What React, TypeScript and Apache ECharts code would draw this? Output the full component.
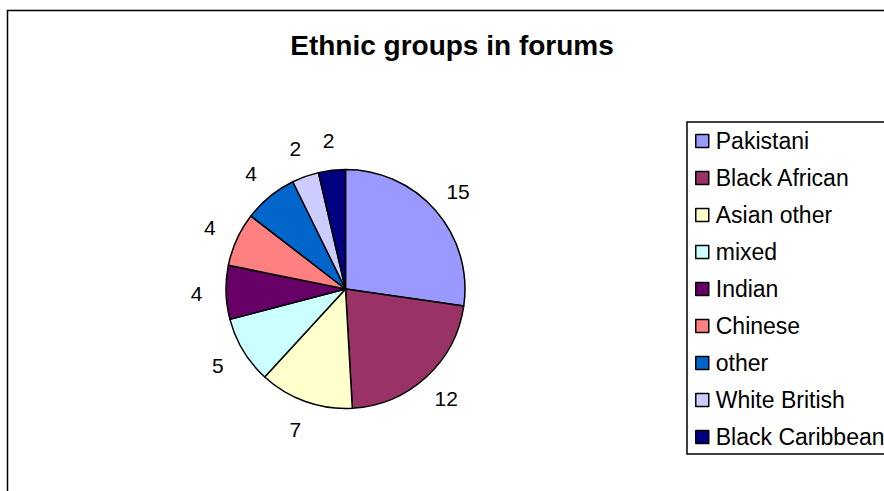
import React, { useEffect, useRef } from "react";
import * as echarts from "echarts";

const categories = [
  "Pakistani",
  "Black African",
  "Asian other",
  "mixed",
  "Indian",
  "Chinese",
  "other",
  "White British",
  "Black Caribbean",
];
const values = [15, 12, 7, 5, 4, 4, 4, 2, 2];
const colors = [
  "#9999FF",
  "#993366",
  "#FFFFCC",
  "#CCFFFF",
  "#660066",
  "#FF8080",
  "#0066CC",
  "#CCCCFF",
  "#000080",
];
const titleText = "Ethnic groups in forums";

export default function App() {
  const ref = useRef<HTMLDivElement>(null);
  useEffect(() => {
    if (!ref.current) return;
    const chart = echarts.init(ref.current, undefined, { renderer: "svg" });
    const data = categories.map((name, i) => ({
      name,
      value: values[i],
      itemStyle: { color: colors[i] },
    }));
    const font = "'Liberation Sans', Arial, sans-serif";
    chart.setOption({
      animation: false,
      backgroundColor: "#ffffff",
      title: {
        text: titleText,
        left: 452,
        top: 31,
        textAlign: "center",
        padding: 0,
        textStyle: {
          fontFamily: font,
          fontSize: 28,
          fontWeight: "bold",
          color: "#000",
        },
      },
      graphic: [
        {
          type: "rect",
          shape: { x: 7.5, y: 10.5, width: 1200, height: 1200 },
          style: { fill: "none", stroke: "#000", lineWidth: 1.5 },
          silent: true,
          z: -10,
        },
      ],
      legend: {
        data: categories,
        orient: "vertical",
        left: 687,
        top: 122,
        padding: [7, 20, 5, 8],
        itemGap: 13,
        itemWidth: 13,
        itemHeight: 13,
        icon: "rect",
        borderColor: "#000",
        borderWidth: 1.5,
        itemStyle: { borderColor: "#000", borderWidth: 1.5 },
        textStyle: {
          fontFamily: font,
          fontSize: 23,
          color: "#000",
          lineHeight: 24,
          padding: [0, 0, 0, 2],
        },
        selectedMode: false,
      },
      series: [
        {
          type: "pie",
          center: [345.5, 289],
          radius: [0, 119.5],
          startAngle: 90,
          clockwise: true,
          data,
          label: { show: false },
          labelLine: { show: false },
          itemStyle: { borderColor: "#000", borderWidth: 1.5 },
          emphasis: { disabled: true },
          silent: true,
        },
        {
          type: "pie",
          center: [345.5, 289],
          radius: [125, 167],
          startAngle: 90,
          clockwise: true,
          data: categories.map((name, i) => ({ name, value: values[i] })),
          itemStyle: { color: "rgba(0,0,0,0)", borderWidth: 0 },
          label: {
            show: true,
            position: "inside",
            formatter: "{c}",
            fontFamily: font,
            fontSize: 21,
            color: "#000",
          },
          labelLine: { show: false },
          emphasis: { disabled: true },
          silent: true,
          z: 3,
        },
      ],
    });
    return () => chart.dispose();
  }, []);
  return (
    <div
      ref={ref}
      style={{ position: "fixed", left: 0, top: 0, width: 884, height: 491 }}
    />
  );
}
